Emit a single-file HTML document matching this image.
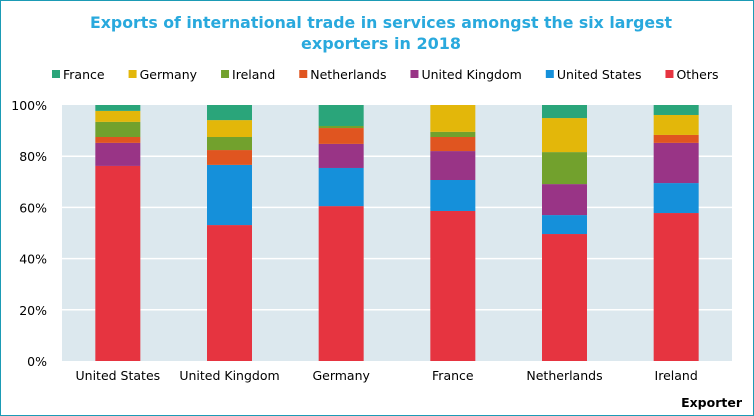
<!DOCTYPE html>
<html><head><meta charset="utf-8"><style>
body{margin:0;width:754px;height:416px;overflow:hidden;background:#fff;font-family:"DejaVu Sans",Verdana,sans-serif}
#frame{position:absolute;left:0;top:0;width:752px;height:414px;border:1px solid #1b9bb5}
</style></head><body>
<div id="frame"></div>
<svg id="c" width="754" height="416" style="position:absolute;left:0;top:0">
<text x="381" y="28" text-anchor="middle" font-size="16" font-weight="bold" fill="#29a9dd" textLength="582" lengthAdjust="spacingAndGlyphs">Exports of international  trade in services amongst the six largest</text>
<text x="381" y="49" text-anchor="middle" font-size="16" font-weight="bold" fill="#29a9dd">exporters in  2018</text>
<text x="742" y="407" text-anchor="end" font-size="12.5" font-weight="bold" fill="#000">Exporter</text>
</svg>
<script>
const categories=["United States","United Kingdom","Germany","France","Netherlands","Ireland"];
const seriesNames=["Others","United States","United Kingdom","Netherlands","Ireland","Germany","France"];
const others=[76.2,53.1,60.5,58.6,49.6,57.8];
const unitedStates=[0,23.5,14.9,12.1,7.4,11.7];
const unitedKingdom=[9.0,0,9.4,11.3,12.1,15.7];
const netherlands=[2.3,5.8,6.2,5.5,0,3.1];
const ireland=[5.9,5.1,0.8,2.0,12.5,0];
const germany=[4.3,6.6,0,10.5,13.3,7.8];
const france=[2.3,5.9,8.2,0,5.1,3.9];
const yTicks=[0,20,40,60,80,100];
const legendOrder=["France","Germany","Ireland","Netherlands","United Kingdom","United States","Others"];
const colors={"Others":"#e63440","United States":"#1590da","United Kingdom":"#993486","Netherlands":"#e05520","Ireland":"#72a12d","Germany":"#e3b70a","France":"#2aa57a"};
const data=[others,unitedStates,unitedKingdom,netherlands,ireland,germany,france];
const svg=document.getElementById('c');const NS='http://www.w3.org/2000/svg';
const L=62,R=732,T=105,B=361;
const y=v=>B-(v/100)*(B-T);
const band=(R-L)/categories.length;
const xc=i=>L+band*(i+0.5);
function mk(t,a){const e=document.createElementNS(NS,t);for(const k in a)e.setAttribute(k,a[k]);svg.appendChild(e);return e;}
const bg=mk('rect',{x:L,y:T,width:R-L,height:B-T,fill:'#dce8ee'});


yTicks.forEach(t=>{
 if(t>0&&t<100){const g=mk('line',{x1:L,x2:R,y1:y(t),y2:y(t),stroke:'#fff','stroke-width':1.5});
 
 }
 const tx=mk('text',{x:47,y:y(t)+5,'text-anchor':'end','font-size':12.5,fill:'#000'});tx.textContent=t+'%';
 
 
});
categories.forEach((c,i)=>{
 let cum=0;
 data.forEach((s,j)=>{
  const v=s[i];if(v>0){const r=mk('rect',{x:xc(i)-22.5,y:y(cum+v),width:45,height:y(cum)-y(cum+v),fill:colors[seriesNames[j]]});
  
  }
  cum+=v;
 });
 const tx=mk('text',{x:xc(i),y:380,'text-anchor':'middle','font-size':12.5,fill:'#000'});tx.textContent=c;
 
 
});
let lx=52;
legendOrder.forEach(n=>{
 const sq=mk('rect',{x:lx,y:70,width:8,height:8,fill:colors[n]});
 
 
 const tx=mk('text',{x:lx+11,y:79,'font-size':12.5,fill:'#000'});tx.textContent=n;
 
 
 lx+=11+tx.getComputedTextLength()+24;
});
</script>
</body></html>
